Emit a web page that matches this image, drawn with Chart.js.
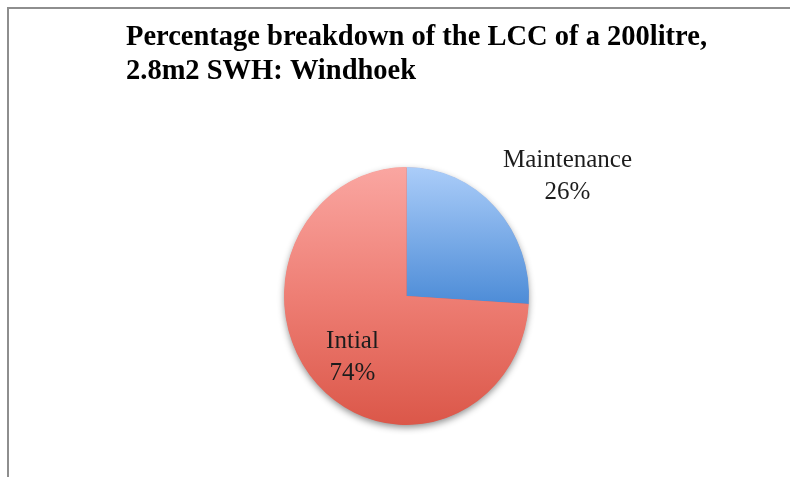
<!DOCTYPE html>
<html>
<head>
<meta charset="utf-8">
<script src="https://cdn.jsdelivr.net/npm/chart.js@4"></script>
<style>
  html, body { margin: 0; padding: 0; background: #fff; }
  #wrap { position: relative; width: 790px; height: 477px; overflow: hidden; }
  #frame { position: absolute; left: 7px; top: 7px; width: 1000px; height: 1000px;
           border-left: 2px solid #8e8e8e; border-top: 2px solid #8e8e8e; box-sizing: border-box; }
  canvas { position: absolute; left: 0; top: 0; }
</style>
</head>
<body>
<div id="wrap">
  <div id="frame"></div>
  <canvas id="c" width="790" height="477"></canvas>
</div>
<script>
const titleLines = ["Percentage breakdown of the LCC of a 200litre,", "2.8m2 SWH: Windhoek"];
const categories = ["Maintenance", "Intial"];
const values = [26, 74];

const YSCALE = 129 / 122.5;

function sliceGradient(ctx, idx) {
  const chart = ctx.chart;
  const a = chart.chartArea;
  if (!a) return idx === 0 ? '#7aa8e6' : '#ea7a70';
  const c = chart.ctx;
  const cy = (a.top + a.bottom) / 2;
  if (idx === 0) {
    const g = c.createLinearGradient(0, a.top, 0, cy + 8 / YSCALE);
    g.addColorStop(0, '#abcdf9');
    g.addColorStop(1, '#4d8cd7');
    return g;
  }
  const g = c.createLinearGradient(0, a.top, 0, a.bottom);
  g.addColorStop(0, '#faa6a1');
  g.addColorStop(0.5, '#ee7e74');
  g.addColorStop(1, '#db5749');
  return g;
}

const ellipsePlugin = {
  id: 'ellipse',
  beforeDatasetsDraw(chart) {
    const a = chart.chartArea;
    const ctx = chart.ctx;
    const cx = (a.left + a.right) / 2, cy = (a.top + a.bottom) / 2;
    const r = Math.min(a.right - a.left, a.bottom - a.top) / 2;
    ctx.save();
    ctx.shadowColor = 'rgba(0,0,0,0.45)';
    ctx.shadowBlur = 7;
    ctx.shadowOffsetY = 3;
    ctx.fillStyle = '#e06050';
    ctx.beginPath();
    ctx.ellipse(cx, cy, r - 0.5, r * YSCALE - 0.5, 0, 0, Math.PI * 2);
    ctx.fill();
    ctx.restore();
    ctx.save();
    ctx.translate(cx, cy);
    ctx.scale(1, YSCALE);
    ctx.translate(-cx, -cy);
  },
  afterDatasetsDraw(chart) {
    chart.ctx.restore();
  }
};

const textPlugin = {
  id: 'texts',
  afterDraw(chart) {
    const ctx = chart.ctx;
    const a = chart.chartArea;
    const cx = (a.left + a.right) / 2, cy = (a.top + a.bottom) / 2;
    ctx.save();
    ctx.fillStyle = '#000';
    ctx.font = 'bold 28.5px "Liberation Serif"';
    ctx.textAlign = 'left';
    ctx.textBaseline = 'alphabetic';
    ctx.fillText(titleLines[0], 126, 45);
    ctx.fillText(titleLines[1], 126, 79);

    const offs = [[161, -136], [-54, 45]];
    ctx.font = '25px "Liberation Serif"';
    ctx.fillStyle = '#1c1c1c';
    ctx.textAlign = 'center';
    ctx.textBaseline = 'middle';
    categories.forEach((cat, i) => {
      const x = cx + offs[i][0], y = cy + offs[i][1];
      ctx.fillText(cat, x, y);
      ctx.fillText(values[i] + '%', x, y + 32);
    });
    ctx.restore();
  }
};

new Chart(document.getElementById('c'), {
  type: 'pie',
  data: {
    labels: categories,
    datasets: [{
      data: values,
      backgroundColor: (ctx) => sliceGradient(ctx, ctx.dataIndex),
      borderWidth: 0,
      hoverOffset: 0
    }]
  },
  options: {
    responsive: false,
    animation: false,
    layout: { padding: { left: 284, right: 261, top: 173.5, bottom: 58.5 } },
    plugins: {
      legend: { display: false },
      title: { display: false },
      tooltip: { enabled: false }
    }
  },
  plugins: [ellipsePlugin, textPlugin]
});
</script>
</body>
</html>
